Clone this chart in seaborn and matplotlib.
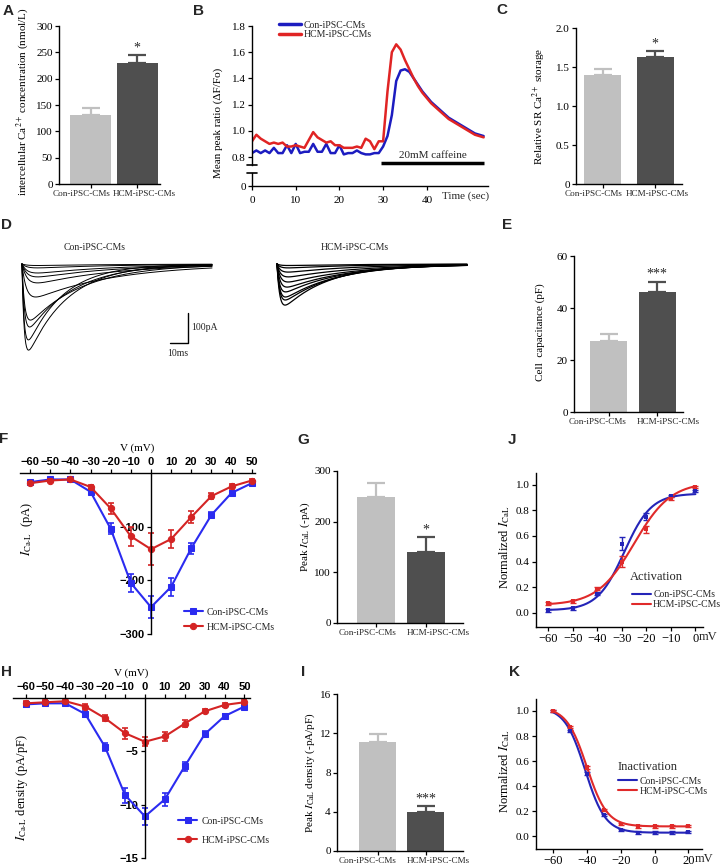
import numpy as np
import pandas as pd
import matplotlib
matplotlib.use("Agg")
import matplotlib.pyplot as plt
import matplotlib.transforms as mtransforms
import seaborn as sns

# ------------------------------------------------------------------------------
# Data
# ------------------------------------------------------------------------------
groups = ["Con-iPSC-CMs", "HCM-iPSC-CMs"]

# A - intercellular Ca2+ (nmol/L)
ca_conc = [131, 230]
ca_conc_err = [14, 15]

# B - mean peak ratio trace
time_sec = list(range(0, 54))
con_ratio = [0.83, 0.85, 0.83, 0.85, 0.83, 0.87, 0.83, 0.83, 0.89, 0.83,
             0.90, 0.83, 0.84, 0.84, 0.90, 0.84, 0.84, 0.90, 0.83, 0.83,
             0.89, 0.82, 0.83, 0.83, 0.85, 0.83, 0.82, 0.82, 0.83, 0.83,
             0.88, 0.96, 1.12, 1.38, 1.46, 1.47, 1.45, 1.40, 1.35, 1.30,
             1.26, 1.22, 1.19, 1.16, 1.13, 1.10, 1.08, 1.06, 1.04, 1.02,
             1.00, 0.98, 0.97, 0.96]
hcm_ratio = [0.92, 0.97, 0.94, 0.92, 0.90, 0.91, 0.90, 0.91, 0.88, 0.88,
             0.89, 0.88, 0.87, 0.93, 0.99, 0.95, 0.93, 0.91, 0.92, 0.89,
             0.89, 0.87, 0.87, 0.87, 0.88, 0.87, 0.94, 0.92, 0.86, 0.92,
             0.92, 1.30, 1.60, 1.66, 1.62, 1.54, 1.47, 1.40, 1.34, 1.29,
             1.25, 1.21, 1.18, 1.15, 1.12, 1.09, 1.07, 1.05, 1.03, 1.01,
             0.99, 0.97, 0.96, 0.95]
caffeine_on = [29.5, 53.0]

# C - relative SR Ca2+ storage
sr_storage = [1.40, 1.63]
sr_storage_err = [0.08, 0.07]

# D - ICa-L current traces: peak amplitude (pA), rise / decay constants (ms)
con_trace_amp = [287, 253, 210, 187, 110, 63, 43, 30, 13, 5]
con_trace_rise = [1.2, 1.2, 1.4, 1.5, 2.5, 3.0, 3.0, 3.0, 3.0, 3.0]
con_trace_decay = [22, 20, 25, 30, 45, 45, 45, 45, 45, 45]
hcm_trace_amp = [137, 120, 110, 93, 77, 60, 43, 27, 13, 5]
hcm_trace_rise = [1.5, 1.5, 1.5, 1.5, 1.8, 2.0, 2.0, 2.0, 2.0, 2.0]
hcm_trace_decay = [25, 28, 30, 32, 35, 38, 40, 40, 40, 40]
trace_len_ms = 105.6

# E - cell capacitance (pF)
capacitance = [27.3, 46.0]
capacitance_err = [2.8, 4.1]

# F / H - I-V relations
volt = [-60, -50, -40, -30, -20, -10, 0, 10, 20, 30, 40, 50]
con_ical = [-17, -12, -12, -35, -104, -205, -250, -212, -140, -78, -37, -19]
con_ical_err = [2, 2, 2, 4, 10, 17, 20, 17, 10, 6, 4, 2]
hcm_ical = [-19, -14, -12, -26, -66, -118, -142, -123, -82, -43, -25, -14]
hcm_ical_err = [2, 2, 2, 4, 10, 18, 30, 17, 11, 6, 4, 2]

con_dens = [-0.6, -0.5, -0.5, -1.5, -4.6, -9.1, -11.1, -9.5, -6.4, -3.4, -1.7, -0.8]
con_dens_err = [0.2, 0.2, 0.2, 0.3, 0.4, 0.7, 0.8, 0.6, 0.4, 0.3, 0.2, 0.2]
hcm_dens = [-0.5, -0.4, -0.3, -0.8, -1.9, -3.3, -4.1, -3.6, -2.4, -1.25, -0.65, -0.4]
hcm_dens_err = [0.2, 0.2, 0.2, 0.2, 0.3, 0.5, 0.4, 0.4, 0.3, 0.2, 0.2, 0.2]

# G / I - peak currents
peak_ical = [248, 140]
peak_ical_err = [28, 30]
peak_dens = [11.1, 4.0]
peak_dens_err = [0.85, 0.6]

# J - activation
act_volt = [-60, -50, -40, -30, -20, -10, 0]
con_act = [0.02, 0.035, 0.15, 0.54, 0.75, 0.91, 0.95]
con_act_err = [0.01, 0.01, 0.01, 0.05, 0.03, 0.01, 0.01]
hcm_act = [0.075, 0.09, 0.19, 0.40, 0.65, 0.89, 0.98]
hcm_act_err = [0.01, 0.01, 0.01, 0.04, 0.03, 0.01, 0.01]
con_act_fit = dict(bottom=0.02, top=0.93, v_half=-29.0, k=5.5)
hcm_act_fit = dict(bottom=0.06, top=1.02, v_half=-25.0, k=7.5)

# K - inactivation
inact_volt = [-60, -50, -40, -30, -20, -10, 0, 10, 20]
con_inact = [1.0, 0.84, 0.50, 0.17, 0.05, 0.03, 0.03, 0.03, 0.035]
hcm_inact = [1.0, 0.87, 0.55, 0.21, 0.10, 0.08, 0.08, 0.08, 0.085]
inact_err = [0.01] * 9
con_inact_fit = dict(bottom=0.03, top=1.03, v_half=-41.0, k=-6.0)
hcm_inact_fit = dict(bottom=0.08, top=1.03, v_half=-40.0, k=-6.0)

# ------------------------------------------------------------------------------
# Style
# ------------------------------------------------------------------------------
W, H = 724, 867
bar_colors = ["#c0c0c0", "#4f4f4f"]
BLUE_B, RED_B = "#1c1cc0", "#e02424"
BLUE_F, RED_F = "#2b2bf0", "#d42424"
BLUE_J, RED_J = "#2424b8", "#e02a2a"

sns.set_theme(style="ticks")
plt.rcParams["font.family"] = ["Liberation Serif", "DejaVu Serif"]
plt.rcParams["mathtext.fontset"] = "stix"
plt.rcParams["axes.linewidth"] = 1.0
plt.rcParams["axes.edgecolor"] = "black"
plt.rcParams["xtick.color"] = "black"
plt.rcParams["ytick.color"] = "black"
plt.rcParams["axes.labelcolor"] = "black"

SANS = ["Liberation Sans", "DejaVu Sans"]

fig = plt.figure(figsize=(W / 100, H / 100), dpi=100)


def px_axes(x0, y0, x1, y1):
    return fig.add_axes([x0 / W, 1 - y1 / H, (x1 - x0) / W, (y1 - y0) / H])


def style_ticks(ax, size=8):
    ax.tick_params(direction="out", length=3, width=0.9, labelsize=size, pad=1.5)


def panel_letter(x, y, s):
    fig.text(x / W, 1 - y / H, s, fontsize=11, fontweight="bold",
             family=SANS, ha="center", va="center")


def bar_panel(box, centers, bar_w, values, errors, ylim, yticks, yticklabels,
              ylabel, label_xy, stars, label_shift):
    x0, y0, x1, y1 = box
    c0, c1 = centers
    unit = c1 - c0
    ax = px_axes(*box)
    df = pd.DataFrame({"group": groups, "value": values})
    sns.barplot(data=df, x="group", y="value", hue="group", palette=bar_colors,
                width=bar_w / unit, saturation=1, legend=False, errorbar=None,
                linewidth=0, ax=ax)
    for i, (v, e) in enumerate(zip(values, errors)):
        ax.errorbar(i, v, yerr=[[0], [e]], fmt="none", ecolor=bar_colors[i],
                    elinewidth=1.6, capsize=6.5, capthick=1.6)
    top = values[1] + errors[1]
    ax.text(1, top + (ylim[1] - ylim[0]) * 0.005, stars, ha="center",
            va="bottom", fontsize=10)
    ax.set_xlim((x0 - c0) / unit, (x1 - c0) / unit)
    ax.set_ylim(*ylim)
    ax.set_yticks(yticks)
    ax.set_yticklabels(yticklabels)
    ax.set_xticks([0, 1])
    ax.set_xticklabels(["", ""])
    # long group names sit a little outward of their ticks, as in the source
    for i, (name, dx) in enumerate(zip(groups, label_shift)):
        tr = ax.get_xaxis_transform() + mtransforms.ScaledTranslation(
            dx / 100, -6 / 100, fig.dpi_scale_trans)
        ax.text(i, 0, name, transform=tr, ha="center", va="top", fontsize=6.6)
    ax.set_xlabel("")
    ax.set_ylabel(ylabel, fontsize=8)
    ax.yaxis.set_label_coords(*label_xy)
    sns.despine(ax=ax)
    style_ticks(ax)
    return ax


# ------------------------------------------------------------------------------
# A
# ------------------------------------------------------------------------------
bar_panel((59, 26, 160, 184), (90.5, 137), 41, ca_conc, ca_conc_err,
          (0, 300), [0, 50, 100, 150, 200, 250, 300],
          ["0", "50", "100", "150", "200", "250", "300"],
          "intercellular Ca$^{2+}$ concentration (nmol/L)", (-0.275, 0.52), "*",
          (-8.5, 7))

# ------------------------------------------------------------------------------
# B (broken y axis)
# ------------------------------------------------------------------------------
ax_b = px_axes(252, 26, 488, 165)
ax_b0 = px_axes(252, 173, 488, 186)
sns.lineplot(x=time_sec, y=con_ratio, color=BLUE_B, lw=1.8, sort=False,
             estimator=None, ax=ax_b, label=groups[0])
sns.lineplot(x=time_sec, y=hcm_ratio, color=RED_B, lw=1.8, sort=False,
             estimator=None, ax=ax_b, label=groups[1])
ax_b.set_xlim(0, 54)
ax_b.set_ylim(0.739, 1.8)
ax_b.set_yticks([0.8, 1.0, 1.2, 1.4, 1.6, 1.8])
ax_b.set_yticklabels(["0.8", "1.0", "1.2", "1.4", "1.6", "1.8"])
ax_b.set_xticks([])
ax_b.spines[["top", "right", "bottom"]].set_visible(False)
ax_b.set_ylabel("Mean peak ratio (ΔF/Fo)", fontsize=8)
ax_b.yaxis.set_label_coords(-0.123, 0.30)
style_ticks(ax_b)
ax_b.plot(caffeine_on, [0.755, 0.755], color="black", lw=2.5, clip_on=False,
          solid_capstyle="butt")
ax_b.text(np.mean(caffeine_on) + 0.2, 0.775, "20mM caffeine", ha="center",
          va="bottom", fontsize=8)
ax_b.plot([-0.02, 0.02], [0, 0], transform=ax_b.transAxes, color="black",
          lw=1.2, clip_on=False)
leg = ax_b.legend(loc="upper left", bbox_to_anchor=(0.10, 1.065), frameon=False,
                  fontsize=7, handlelength=2.2, handletextpad=0.3,
                  labelspacing=0.05, borderaxespad=0)
for ln in leg.get_lines():
    ln.set_linewidth(2.5)

ax_b0.set_xlim(0, 54)
ax_b0.set_ylim(0, 0.1)
ax_b0.set_yticks([0])
ax_b0.set_yticklabels(["0"])
ax_b0.set_xticks([0, 10, 20, 30, 40])
ax_b0.set_xticklabels(["0", "10", "20", "30", "40"])
ax_b0.spines[["top", "right"]].set_visible(False)
style_ticks(ax_b0)
ax_b0.tick_params(axis="x", pad=4)
ax_b0.plot([-0.02, 0.02], [1, 1], transform=ax_b0.transAxes, color="black",
           lw=1.2, clip_on=False)
ax_b0.text(43.5, -0.45, "Time (sec)", transform=ax_b0.get_xaxis_transform(),
           ha="left", va="top", fontsize=8)

# ------------------------------------------------------------------------------
# C
# ------------------------------------------------------------------------------
bar_panel((576, 28, 682, 184), (602.5, 655), 37, sr_storage, sr_storage_err,
          (0, 2.0), [0, 0.5, 1.0, 1.5, 2.0], ["0", "0.5", "1.0", "1.5", "2.0"],
          "Relative SR Ca$^{2+}$ storage", (-0.264, 0.50), "*", (-8.5, 2))

# ------------------------------------------------------------------------------
# D - current traces
# ------------------------------------------------------------------------------
ax_d = px_axes(0, 200, 480, 370)
ax_d.set_xlim(0, 266.7)
ax_d.set_ylim(-353.3, 213.3)
ax_d.axis("off")
t = np.linspace(0, trace_len_ms, 500)
for start, amps, rises, decays, lw in [
        (12.2, con_trace_amp, con_trace_rise, con_trace_decay, 0.7),
        (153.9, hcm_trace_amp, hcm_trace_rise, hcm_trace_decay, 0.9)]:
    for amp, tr, td in zip(amps, rises, decays):
        shape = np.exp(-t / td) - np.exp(-t / tr)
        shape = shape / shape.max()
        ax_d.plot(start + t, -amp * shape, color="black", lw=lw)
ax_d.plot([94.4, 104.4, 104.4], [-263.3, -263.3, -163.3], color="black", lw=1)
ax_d.text(106, -213, "100pA", fontsize=7, va="center", ha="left")
ax_d.text(93, -283, "10ms", fontsize=7, va="top", ha="left")
fig.text(95 / W, 1 - 248 / H, groups[0], fontsize=7, ha="center", va="center")
fig.text(355 / W, 1 - 248 / H, groups[1], fontsize=7, ha="center", va="center")

# ------------------------------------------------------------------------------
# E
# ------------------------------------------------------------------------------
bar_panel((574, 256, 683, 412), (608.5, 657), 37, capacitance, capacitance_err,
          (0, 60), [0, 20, 40, 60], ["0", "20", "40", "60"],
          "Cell  capacitance (pF)", (-0.266, 0.51), "***", (-11, 11))


# ------------------------------------------------------------------------------
# F / H - I-V curves
# ------------------------------------------------------------------------------
def iv_panel(box, xlim, ylim, yticks, con, con_err, hcm, hcm_err, ylabel,
             label_xy, leg_anchor, leg_spacing):
    ax = px_axes(*box)
    for vals, errs, col, mk, name in [(con, con_err, BLUE_F, "s", groups[0]),
                                      (hcm, hcm_err, RED_F, "o", groups[1])]:
        sns.lineplot(x=volt, y=vals, color=col, marker=mk, markersize=4.5,
                     markeredgecolor=col, lw=1.5, sort=False, estimator=None,
                     ax=ax, label=name, clip_on=False)
        ax.errorbar(volt, vals, yerr=errs, fmt="none", ecolor=col,
                    elinewidth=1.2, capsize=2.5, capthick=1.2, clip_on=False)
    ax.set_xlim(*xlim)
    ax.set_ylim(*ylim)
    ax.spines["left"].set_position(("data", 0))
    ax.spines[["right", "bottom"]].set_visible(False)
    ax.xaxis.tick_top()
    ax.xaxis.set_label_position("top")
    ax.set_xticks(volt)
    ax.set_xticklabels([f"{v}".replace("-", "\u2212") for v in volt],
                       family=SANS, fontweight="bold", fontsize=8)
    ax.set_yticks(yticks)
    ax.set_yticklabels([f"{v}".replace("-", "\u2212") for v in yticks],
                       family=SANS, fontweight="bold", fontsize=8)
    ax.set_xlabel("V (mV)", fontsize=8, labelpad=5)
    ax.set_ylabel(ylabel, fontsize=9)
    ax.yaxis.set_label_coords(*label_xy)
    style_ticks(ax)
    ax.tick_params(axis="x", pad=1)
    ax.legend(loc="lower left", bbox_to_anchor=leg_anchor, frameon=False,
              fontsize=7, handlelength=2.0, handletextpad=0.4,
              labelspacing=leg_spacing, borderaxespad=0)
    return ax


iv_panel((20, 473, 255, 634), (-65, 51.6), (-300, 0), [-100, -200, -300],
         con_ical, con_ical_err, hcm_ical, hcm_ical_err,
         r"$I_{\mathrm{Ca\text{-}L}}$  (pA)", (0.064, 0.65), (0.68, -0.01), 0.6)
iv_panel((13, 698, 250, 858), (-66.3, 52.8), (-15, 0), [-5, -10, -15],
         con_dens, con_dens_err, hcm_dens, hcm_dens_err,
         r"$I_{\mathrm{Ca\text{-}L}}$ density (pA/pF)", (0.072, 0.44),
         (0.68, 0.06), 1.0)

# ------------------------------------------------------------------------------
# G / I
# ------------------------------------------------------------------------------
bar_panel((337, 471, 463, 623), (376, 425.5), 38, peak_ical, peak_ical_err,
          (0, 300), [0, 100, 200, 300], ["0", "100", "200", "300"],
          r"Peak $I_{\mathrm{CaL}}$ (-pA)", (-0.198, 0.57), "*", (-8.5, 12.5))
bar_panel((337, 694, 463, 851), (377.5, 425.5), 37, peak_dens, peak_dens_err,
          (0, 16), [0, 4, 8, 12, 16], ["0", "4", "8", "12", "16"],
          r"Peak $I_{\mathrm{CaL}}$ density (-pA/pF)", (-0.159, 0.50), "***",
          (-10, 13))


# ------------------------------------------------------------------------------
# J / K - Boltzmann fits
# ------------------------------------------------------------------------------
def boltzmann(v, bottom, top, v_half, k):
    return bottom + (top - bottom) / (1 + np.exp((v_half - v) / k))


def gating_panel(box, xlim, ylim, xticks, v_pts, con, con_err, hcm, hcm_err,
                 con_fit, hcm_fit, fit_range, title, title_xy, leg_anchor,
                 mv_x):
    ax = px_axes(*box)
    v_fit = np.linspace(fit_range[0], fit_range[1], 300)
    for vals, errs, fit, col, name in [(con, con_err, con_fit, BLUE_J, groups[0]),
                                       (hcm, hcm_err, hcm_fit, RED_J, groups[1])]:
        sns.lineplot(x=v_fit, y=boltzmann(v_fit, **fit), color=col, lw=1.5,
                     sort=False, estimator=None, ax=ax, label=name)
        sns.scatterplot(x=v_pts, y=vals, color=col, marker="s", s=12,
                        edgecolor=col, linewidth=0, ax=ax, zorder=3)
        ax.errorbar(v_pts, vals, yerr=errs, fmt="none", ecolor=col,
                    elinewidth=1.0, capsize=2, capthick=1.0)
    ax.set_xlim(*xlim)
    ax.set_ylim(*ylim)
    ax.set_xticks(xticks)
    ax.set_xticklabels([f"{v}".replace("-", "\u2212") for v in xticks])
    ax.set_yticks([0.0, 0.2, 0.4, 0.6, 0.8, 1.0])
    ax.set_yticklabels(["0.0", "0.2", "0.4", "0.6", "0.8", "1.0"])
    ax.spines[["top", "right"]].set_visible(False)
    style_ticks(ax)
    ax.tick_params(axis="x", labelsize=9)
    ax.set_ylabel(r"Normalized $I_{\mathrm{CaL}}$", fontsize=9)
    ax.yaxis.set_label_coords(-0.145, 0.52)
    ax.text(mv_x, -0.065, "mV", transform=ax.transAxes, ha="left",
            va="center", fontsize=9)
    ax.text(*title_xy, title, transform=ax.transAxes, ha="left", va="center",
            fontsize=9)
    ax.legend(loc="lower left", bbox_to_anchor=leg_anchor, frameon=False,
              fontsize=7, handlelength=2.0, handletextpad=0.2,
              labelspacing=0.1, borderaxespad=0)
    return ax


gating_panel((536, 473, 703, 627), (-65, 3.1), (-0.11, 1.09),
             [-60, -50, -40, -30, -20, -10, 0], act_volt, con_act, con_act_err,
             hcm_act, hcm_act_err, con_act_fit, hcm_act_fit, (-60, 0),
             "Activation", (0.56, 0.325), (0.55, 0.09), 0.975)
gating_panel((536, 699, 702, 849), (-70, 28), (-0.10, 1.095),
             [-60, -40, -20, 0, 20], inact_volt, con_inact, inact_err,
             hcm_inact, inact_err, con_inact_fit, hcm_inact_fit, (-60, 20),
             "Inactivation", (0.49, 0.55), (0.47, 0.33), 0.955)

# ------------------------------------------------------------------------------
# Panel letters
# ------------------------------------------------------------------------------
for x, y, s in [(8, 11, "A"), (199, 11, "B"), (502, 10, "C"), (6, 225, "D"),
                (507, 225, "E"), (4, 439, "F"), (303, 440, "G"),
                (512, 440, "J"), (7, 672, "H"), (303, 672, "I"),
                (514, 672, "K")]:
    panel_letter(x, y, s)

fig.savefig("out.png", dpi=100)
